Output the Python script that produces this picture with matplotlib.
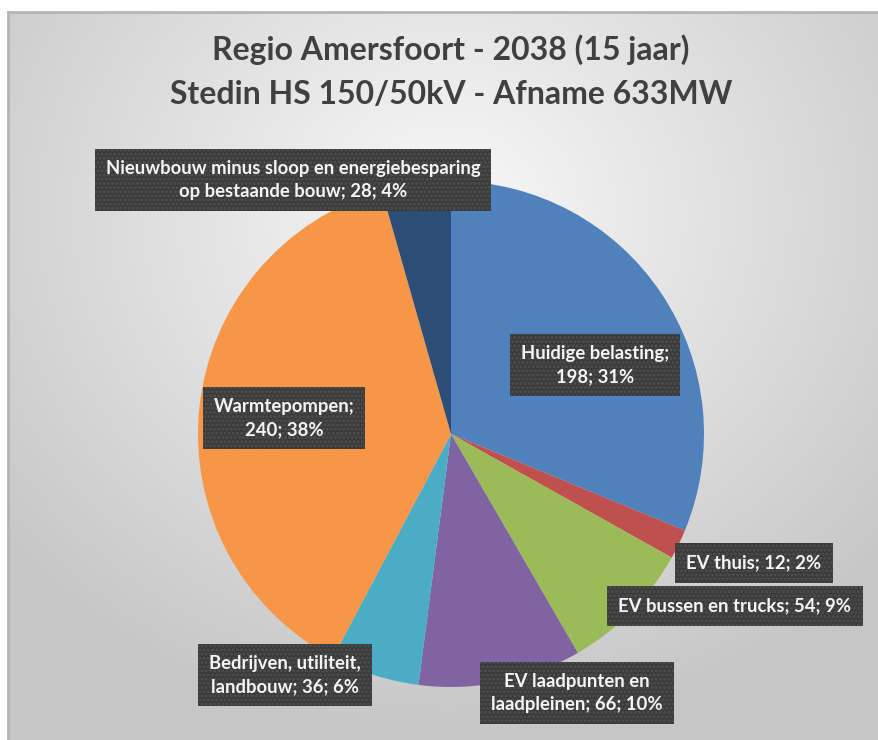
import matplotlib.pyplot as plt
import numpy as np

# data
categories = ['Huidige belasting', 'EV thuis', 'EV bussen en trucks',
              'EV laadpunten en laadpleinen', 'Bedrijven, utiliteit, landbouw',
              'Warmtepompen', 'Nieuwbouw minus sloop en energiebesparing op bestaande bouw']
values = [198, 12, 54, 66, 36, 240, 28]
percents = [31, 2, 9, 10, 6, 38, 4]
label_texts = ['Huidige belasting;\n198; 31%',
               'EV thuis; 12; 2%',
               'EV bussen en trucks; 54; 9%',
               'EV laadpunten en\nlaadpleinen; 66; 10%',
               'Bedrijven, utiliteit,\nlandbouw; 36; 6%',
               'Warmtepompen;\n240; 38%',
               'Nieuwbouw minus sloop en energiebesparing\nop bestaande bouw; 28; 4%']
colors = ['#4F81BD', '#C0504D', '#9BBB59', '#8064A2', '#4BACC6', '#F79646', '#2C4D75']

# label box centres in pixels (x from left, y from top)
label_pos = [(595, 365), (754, 563), (735, 606), (577, 693), (285, 675), (284, 418), (293, 180)]

W, H = 879, 740
plt.rcParams['font.family'] = ['Lato', 'DejaVu Sans']
plt.rcParams['hatch.linewidth'] = 1.5

fig = plt.figure(figsize=(W / 100, H / 100), dpi=100)
fig.patch.set_facecolor('white')

# gradient background of the chart area
bg = fig.add_axes([8 / W, 0, (W - 8) / W, (H - 12) / H])
yy, xx = np.mgrid[0:728, 0:871]
d = np.sqrt(((xx - 440) / 620) ** 2 + ((yy - 200) / 560) ** 2)
shade = np.clip(0.975 - 0.21 * d, 0.78, 0.975)
bg.imshow(np.dstack([shade] * 3), aspect='auto', extent=[0, 871, 728, 0])
bg.set_xticks([])
bg.set_yticks([])
for side in ['right', 'bottom']:
    bg.spines[side].set_visible(False)
for side in ['left', 'top']:
    bg.spines[side].set_color('#b4b4b4')
    bg.spines[side].set_linewidth(2)

ax = fig.add_axes([0, 0, 1, 1])
ax.pie(values, colors=colors, startangle=90, counterclock=False,
       center=(451, H - 434), radius=253, frame=True,
       wedgeprops=dict(linewidth=0))
ax.set_xlim(0, W)
ax.set_ylim(0, H)
ax.set_aspect('equal')
ax.axis('off')

for txt, (px, py) in zip(label_texts, label_pos):
    ax.text(px, H - py, txt, ha='center', va='center', fontsize=13.3,
            fontweight='bold', color='#f4f4f4', linespacing=1.4,
            bbox=dict(boxstyle='square,pad=0.6', facecolor='#3a3a3a',
                      edgecolor='#505050', linewidth=0, hatch='....'))

ax.text(451, H - 50, 'Regio Amersfoort - 2038 (15 jaar)', ha='center', va='center',
        fontsize=23, fontweight='bold', color='#404040')
ax.text(451, H - 95, 'Stedin HS 150/50kV - Afname 633MW', ha='center', va='center',
        fontsize=23, fontweight='bold', color='#404040')

fig.savefig('out.png', dpi=100)
